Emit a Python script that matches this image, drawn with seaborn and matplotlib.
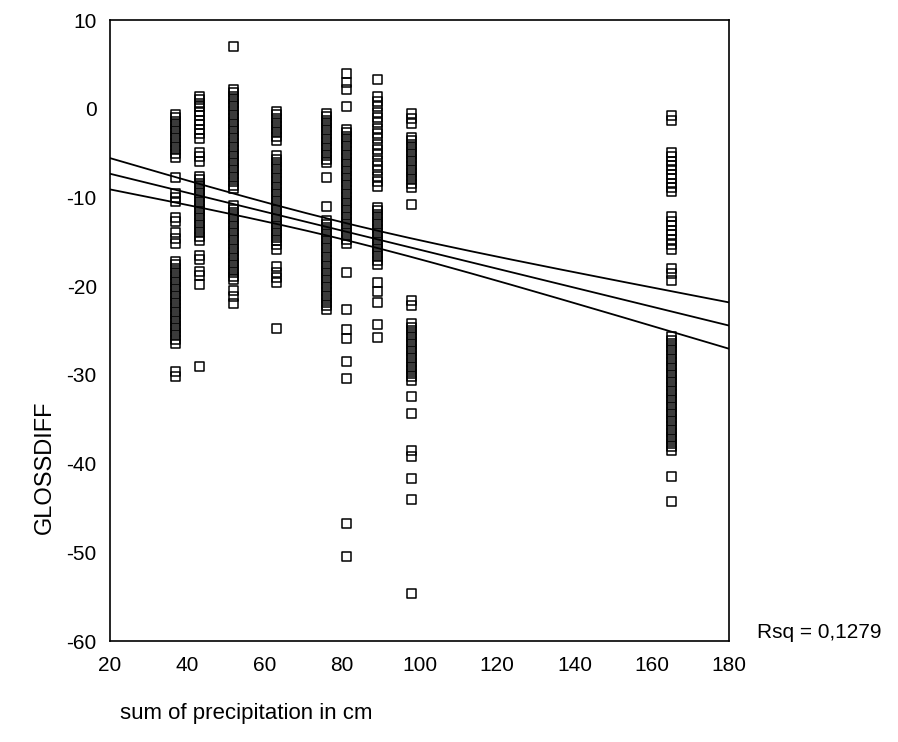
import numpy as np
import pandas as pd
import matplotlib
matplotlib.use("Agg")
import matplotlib.pyplot as plt
import seaborn as sns

# sum of precipitation (cm) for each site, and the GLOSSDIFF values read per site
precip = [37, 43, 52, 63, 76, 81, 89, 98, 165]

gloss_37 = [-0.6, -1.0, -1.4, -1.8, -2.2, -2.6, -3.0, -3.4, -3.8, -4.2, -4.6, -5.0, -5.5,
            -7.8, -9.5, -10.0, -10.5, -12.3, -12.7, -13.9, -14.6, -15.2,
            -17.2, -17.6, -18.0, -18.4, -18.8, -19.2, -19.6, -20.0, -20.4, -20.8, -21.2, -21.6,
            -22.0, -22.4, -22.8, -23.2, -23.6, -24.0, -24.4, -24.8, -25.2, -25.6, -26.0, -26.5,
            -29.6, -30.2]
gloss_43 = [1.4, 1.0, 0.6, 0.2, -0.3, -0.8, -1.3, -1.8, -2.3, -2.8, -3.3,
            -4.9, -5.4, -5.9,
            -7.6, -8.0, -8.4, -8.8, -9.2, -9.6, -10.0, -10.4, -10.8, -11.2, -11.6, -12.0,
            -12.4, -12.8, -13.2, -13.6, -14.0, -14.4, -14.8,
            -16.5, -17.0, -18.3, -18.8, -19.8, -29.0]
gloss_52 = [7.0,
            2.2, 1.8, 1.4, 1.0, 0.6, 0.2, -0.2, -0.6, -1.0, -1.4, -1.8, -2.2, -2.6, -3.0, -3.4,
            -3.8, -4.2, -4.6, -5.0, -5.4, -5.8, -6.2, -6.6, -7.0, -7.4, -7.8, -8.2, -8.6, -9.0,
            -10.9, -11.3, -11.7, -12.1, -12.5, -12.9, -13.3, -13.7, -14.1, -14.5, -14.9, -15.3,
            -15.7, -16.1, -16.5, -16.9, -17.3, -17.7, -18.1, -18.5, -18.9, -19.3,
            -20.5, -21.2, -22.0]
gloss_63 = [-0.3, -0.7, -1.1, -1.5, -1.9, -2.3, -2.7, -3.1, -3.6,
            -5.3, -5.7, -6.1, -6.5, -6.9, -7.3, -7.7, -8.1, -8.5, -8.9, -9.3, -9.7, -10.1,
            -10.5, -10.9, -11.3, -11.7, -12.1, -12.5, -12.9, -13.3, -13.7, -14.1, -14.5,
            -14.9, -15.3, -15.9,
            -17.8, -18.4, -19.0, -19.6, -24.8]
gloss_76 = [-0.5, -0.9, -1.3, -1.7, -2.1, -2.5, -2.9, -3.3, -3.7, -4.1, -4.5, -4.9, -5.3,
            -5.7, -6.1, -7.7, -11.0,
            -12.6, -13.0, -13.4, -13.8, -14.2, -14.6, -15.0, -15.4, -15.8, -16.2, -16.6, -17.0,
            -17.4, -17.8, -18.2, -18.6, -19.0, -19.4, -19.8, -20.2, -20.6, -21.0, -21.4, -21.8,
            -22.2, -22.6]
gloss_81 = [4.0, 3.0, 2.2, 0.3,
            -2.3, -2.7, -3.1, -3.5, -3.9, -4.3, -4.7, -5.1, -5.5, -5.9, -6.3, -6.7, -7.1, -7.5,
            -7.9, -8.3, -8.7, -9.1, -9.5, -9.9, -10.3, -10.7, -11.1, -11.5, -11.9, -12.3, -12.7,
            -13.1, -13.5, -13.9, -14.3, -14.7, -15.2,
            -18.5, -22.6, -24.9, -25.9, -28.5, -30.4, -46.7, -50.5]
gloss_89 = [3.3,
            1.4, 0.8, 0.2, -0.4, -1.0, -1.6, -2.2, -2.8, -3.4, -4.0, -4.6, -5.2, -5.8, -6.4,
            -7.0, -7.6, -8.2, -8.8,
            -11.1, -11.5, -11.9, -12.3, -12.7, -13.1, -13.5, -13.9, -14.3, -14.7, -15.1, -15.5,
            -15.9, -16.3, -16.7, -17.1, -17.5,
            -19.6, -20.6, -21.8, -24.3, -25.8]
gloss_98 = [-0.5, -1.1, -1.7,
            -3.2, -3.6, -4.0, -4.4, -4.8, -5.2, -5.6, -6.0, -6.4, -6.8, -7.2, -7.6, -8.0, -8.4,
            -8.9, -10.8,
            -21.6, -22.2,
            -24.2, -24.6, -25.0, -25.4, -25.8, -26.2, -26.6, -27.0, -27.4, -27.8, -28.2, -28.6,
            -29.0, -29.4, -29.8, -30.2, -30.6,
            -32.4, -34.4, -38.5, -39.2, -41.7, -44.0, -54.6]
gloss_165 = [-0.8, -1.3,
             -4.9, -5.4, -5.9, -6.4, -6.9, -7.4, -7.9, -8.4, -8.9, -9.3,
             -12.2, -12.7, -13.2, -13.7, -14.2, -14.7, -15.3, -15.9,
             -18.0, -18.6, -19.4,
             -25.7, -26.1, -26.5, -26.9, -27.3, -27.7, -28.1, -28.5, -28.9, -29.3, -29.7, -30.1,
             -30.5, -30.9, -31.3, -31.7, -32.1, -32.5, -32.9, -33.3, -33.7, -34.1, -34.5, -34.9,
             -35.3, -35.7, -36.1, -36.5, -36.9, -37.3, -37.7, -38.1, -38.5,
             -41.4, -44.3]

gloss_cols = [gloss_37, gloss_43, gloss_52, gloss_63, gloss_76,
              gloss_81, gloss_89, gloss_98, gloss_165]

x_ticks = [20, 40, 60, 80, 100, 120, 140, 160, 180]
y_ticks = [-60, -50, -40, -30, -20, -10, 0, 10]
rsq_text = "Rsq = 0,1279"

rows = []
for p, vals in zip(precip, gloss_cols):
    for v in vals:
        rows.append((p, v))
df = pd.DataFrame(rows, columns=["precip", "glossdiff"])

sns.set_style("white")
plt.rcParams["font.family"] = ["Liberation Sans", "DejaVu Sans"]
plt.rcParams["axes.unicode_minus"] = False

fig = plt.figure(figsize=(8.98, 7.42), dpi=100)
ax = fig.add_axes([0.1225, 0.136, 0.6895, 0.837])

sns.scatterplot(data=df, x="precip", y="glossdiff", ax=ax, marker="s", s=42,
                facecolors="none", edgecolor="black", linewidth=1.1, legend=False)

# linear fit with 95% confidence band for the mean
x = df["precip"].values
y = df["glossdiff"].values
b, a = np.polyfit(x, y, 1)
n = len(x)
resid = y - (a + b * x)
s = np.sqrt(np.sum(resid ** 2) / (n - 2))
sxx = np.sum((x - x.mean()) ** 2)
xs = np.linspace(20, 180, 200)
fit = a + b * xs
se = s * np.sqrt(1.0 / n + (xs - x.mean()) ** 2 / sxx)
ax.plot(xs, fit, color="black", lw=1.3)
ax.plot(xs, fit + 1.965 * se, color="black", lw=1.3)
ax.plot(xs, fit - 1.965 * se, color="black", lw=1.3)

ax.set_xlim(20, 180)
ax.set_ylim(-60, 10)
ax.set_xticks(x_ticks)
ax.set_yticks(y_ticks)
ax.tick_params(axis="both", labelsize=15, direction="out", length=3.5, width=1.5,
               color="black", labelcolor="black")
ax.tick_params(axis="x", pad=7)
ax.tick_params(axis="y", pad=6)
for sp in ax.spines.values():
    sp.set_visible(True)
    sp.set_color("black")
    sp.set_linewidth(1.2)

ax.set_xlabel("sum of precipitation in cm", fontsize=16, color="black")
ax.set_ylabel("GLOSSDIFF", fontsize=17, color="black")
ax.xaxis.set_label_coords(0.22, -0.1)
ax.yaxis.set_label_coords(-0.088, 0.28)

fig.text(0.843, 0.147, rsq_text, fontsize=15, va="center", ha="left", color="black")

fig.savefig("out.png", dpi=100, facecolor="white")
